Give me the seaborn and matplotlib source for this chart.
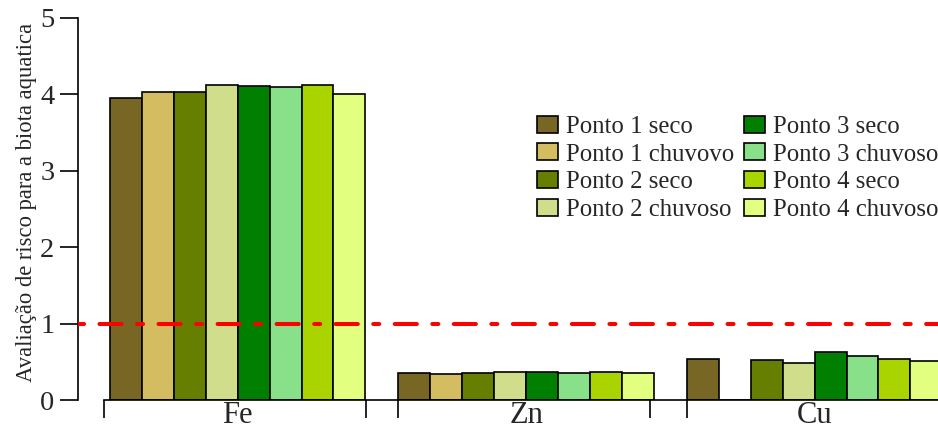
import matplotlib
matplotlib.use("Agg")
import matplotlib.pyplot as plt
import pandas as pd
import seaborn as sns

# dados
metais = ["Fe", "Zn", "Cu"]
pontos = [
    "Ponto 1 seco", "Ponto 1 chuvovo", "Ponto 2 seco", "Ponto 2 chuvoso",
    "Ponto 3 seco", "Ponto 3 chuvoso", "Ponto 4 seco", "Ponto 4 chuvoso",
]
fe = [3.95, 4.03, 4.03, 4.12, 4.11, 4.10, 4.12, 4.01]
zn = [0.35, 0.34, 0.35, 0.36, 0.36, 0.35, 0.36, 0.35]
cu = [0.54, 0.00, 0.53, 0.48, 0.63, 0.57, 0.54, 0.51]
cores = ["#786624", "#D4BC60", "#667F00", "#D0DD8A",
         "#007F00", "#88E088", "#AAD400", "#E2FF7F"]
limite = 1.0

df = pd.DataFrame({
    "metal": [m for m in metais for _ in pontos],
    "ponto": pontos * len(metais),
    "valor": fe + zn + cu,
})

sns.set_style("ticks")
plt.rcParams["font.family"] = ["Liberation Serif", "DejaVu Serif"]

fig = plt.figure(figsize=(9.38, 4.29), dpi=100)
ax = fig.add_axes([78 / 938, 29 / 429, 860 / 938, 382 / 429])

sns.barplot(
    data=df, x="metal", y="valor", hue="ponto", order=metais, hue_order=pontos,
    palette=dict(zip(pontos, cores)), saturation=1, width=0.887, gap=0,
    errorbar=None, edgecolor="black", linewidth=1.2, ax=ax,
)

# limite de risco (linha traço-ponto vermelha)
ax.axhline(limite, color="red", lw=2.9, dashes=(1.5, 3.83, 5.5, 3.83),
           dash_capstyle="round", zorder=5)

ax.set_xlim(-0.553, 2.428)
ax.set_ylim(0, 5)
ax.set_yticks(range(6))
ax.set_xlabel("")
ax.set_ylabel("Avaliação de risco para a biota aquatica", fontsize=16.3)
ax.yaxis.set_label_coords(-0.048, 0.517)

sns.despine(ax=ax)
ax.spines["left"].set_bounds(0, 5)
ax.spines["bottom"].set_bounds(-0.463, 2.428)
for s in ("left", "bottom"):
    ax.spines[s].set_linewidth(1.2)
    ax.spines[s].set_color("black")

ax.tick_params(axis="y", length=13, width=1.2, pad=4, labelsize=20.5, color="black")
ax.tick_params(axis="x", which="major", length=0, pad=1, labelsize=22)
ax.set_xticks([-0.463, 0.445, 0.556, 1.43, 1.558], minor=True)
ax.tick_params(axis="x", which="minor", length=13, width=1.2, color="black", direction="out")

handles, labels = ax.get_legend_handles_labels()
ax.legend(handles, labels, ncol=2, loc="upper left", bbox_to_anchor=(0.5337, 0.744),
          frameon=False, fontsize=17.8, borderpad=0, borderaxespad=0,
          handlelength=0.85, handleheight=0.68, handletextpad=0.32,
          columnspacing=0.4, labelspacing=0.22)

fig.savefig("out.png", dpi=100)
